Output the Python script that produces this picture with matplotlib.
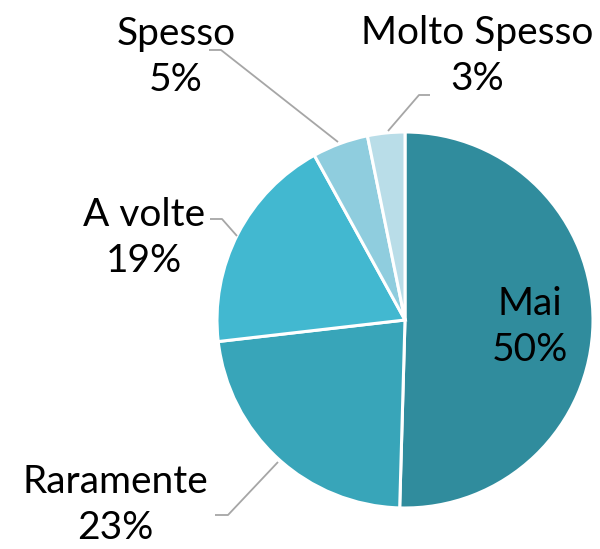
#!/usr/bin/env python3

import matplotlib

matplotlib.use("Agg")
import matplotlib.pyplot as plt

# data (clockwise from 12 o'clock)
categories = ["Mai", "Raramente", "A volte", "Spesso", "Molto Spesso"]
shares = [50.4, 22.7, 18.8, 4.8, 3.2]
pct_labels = ["50%", "23%", "19%", "5%", "3%"]
colors = ["#308C9D", "#38A5B9", "#42B8D0", "#8FCDDE", "#B9DDE8"]

W, H = 600, 549
CENTER = (405, H - 320)
RADIUS = 188

# label placement (pixel coords, y from top) and leader lines
label_pos = {
    "Mai": (530, 327),
    "Raramente": (115, 505),
    "A volte": (144, 238),
    "Spesso": (176, 57),
    "Molto Spesso": (477, 56),
}
leaders = {
    "Raramente": [(215, 515), (228, 515), (278, 462)],
    "A volte": [(210, 219), (222, 219), (237, 236)],
    "Spesso": [(209, 50), (221, 50), (338, 142)],
    "Molto Spesso": [(430, 95), (419, 95), (388, 131)],
}

plt.rcParams["font.family"] = ["Lato", "DejaVu Sans"]

fig = plt.figure(figsize=(W / 100, H / 100), dpi=100)
ax = fig.add_axes([0, 0, 1, 1])

ax.pie(
    shares,
    colors=colors,
    startangle=90,
    counterclock=False,
    center=CENTER,
    radius=RADIUS,
    wedgeprops={"edgecolor": "white", "linewidth": 2.2},
    frame=True,
)
ax.set_xlim(0, W)
ax.set_ylim(0, H)
ax.set_aspect("equal")
ax.axis("off")

for name, pts in leaders.items():
    xs = [p[0] for p in pts]
    ys = [H - p[1] for p in pts]
    ax.plot(xs, ys, color="#A6A6A6", linewidth=1.3, solid_capstyle="butt")

for name, pct in zip(categories, pct_labels):
    x, y = label_pos[name]
    ax.text(x, H - y, f"{name}\n{pct}", ha="center", va="center",
            fontsize=28, color="black", linespacing=1.32)

fig.savefig("out.png", dpi=100)
